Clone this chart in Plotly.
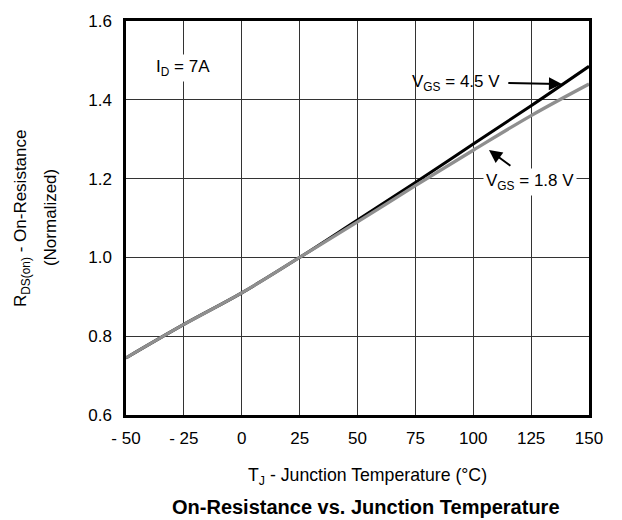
import plotly.graph_objects as go

# Junction temperature (°C) and normalized on-resistance
temp_c = [-50, -25, 0, 25, 50, 75, 100, 125, 150]
rds_vgs_4v5 = [0.745, 0.830, 0.910, 1.000, 1.095, 1.190, 1.288, 1.385, 1.485]
rds_vgs_1v8 = [0.745, 0.830, 0.910, 1.000, 1.090, 1.182, 1.272, 1.360, 1.440]

x_ticks = [-50, -25, 0, 25, 50, 75, 100, 125, 150]
x_tick_text = ["- 50", "- 25", "0", "25", "50", "75", "100", "125", "150"]
y_ticks = [0.6, 0.8, 1.0, 1.2, 1.4, 1.6]
y_tick_text = ["0.6", "0.8", "1.0", "1.2", "1.4", "1.6"]

FONT = "Liberation Sans, Arial, Helvetica, sans-serif"
FS = 17

fig = go.Figure()
fig.add_trace(go.Scatter(x=temp_c, y=rds_vgs_4v5, mode="lines",
                         line=dict(color="#000000", width=3, shape="spline"),
                         showlegend=False))
fig.add_trace(go.Scatter(x=temp_c, y=rds_vgs_1v8, mode="lines",
                         line=dict(color="#8f8f8f", width=3.3, shape="spline"),
                         showlegend=False))

annotations = [
    # condition label
    dict(x=-25.4, y=1.48, xref="x", yref="y", showarrow=False,
         text="I<sub>D</sub> = 7A", font=dict(size=FS, color="black"),
         bgcolor="white", borderpad=2),
    # VGS = 4.5 V label and pointer
    dict(x=112.6, y=1.4425, xref="x", yref="y", showarrow=False,
         xanchor="right", text="V<sub>GS</sub> = 4.5 V",
         font=dict(size=FS, color="black")),
    dict(x=138.3, y=1.44, xref="x", yref="y", axref="x", ayref="y",
         ax=114.5, ay=1.4425, showarrow=True, text="",
         arrowhead=2, arrowsize=1.3, arrowwidth=2, arrowcolor="black"),
    # VGS = 1.8 V label and pointer
    dict(x=124.5, y=1.1925, xref="x", yref="y", showarrow=False,
         text="V<sub>GS</sub> = 1.8 V", font=dict(size=FS, color="black"),
         bgcolor="white", borderpad=2),
    dict(x=106.8, y=1.2725, xref="x", yref="y", axref="x", ayref="y",
         ax=116.7, ay=1.23, showarrow=True, text="",
         arrowhead=2, arrowsize=1.3, arrowwidth=2, arrowcolor="black"),
    # axis titles
    dict(x=-0.2246, y=0.5, xref="paper", yref="paper", showarrow=False,
         textangle=-90, xanchor="center", yanchor="middle",
         text="R<sub>DS(on)</sub> - On-Resistance",
         font=dict(size=FS, color="black")),
    dict(x=-0.164, y=0.5, xref="paper", yref="paper", showarrow=False,
         textangle=-90, xanchor="center", yanchor="middle",
         text="(Normalized)", font=dict(size=FS, color="black")),
    dict(x=0.521, y=-0.155, xref="paper", yref="paper", showarrow=False,
         xanchor="center", yanchor="middle",
         text="T<sub>J</sub> - Junction Temperature (°C)",
         font=dict(size=17.7, color="black")),
    # chart caption
    dict(x=0.518, y=-0.233, xref="paper", yref="paper", showarrow=False,
         xanchor="center", yanchor="middle",
         text="<b>On-Resistance vs. Junction Temperature</b>",
         font=dict(size=20, color="black")),
]

fig.update_layout(
    width=622, height=520,
    margin=dict(l=126, r=33, t=16, b=105),
    paper_bgcolor="white", plot_bgcolor="white",
    font=dict(family=FONT, size=FS, color="black"),
    annotations=annotations,
    xaxis=dict(range=[-50, 150], tickvals=x_ticks, ticktext=x_tick_text,
               showgrid=True, gridcolor="#333333", gridwidth=1.2,
               showline=True, linecolor="black", linewidth=2.5, mirror=True,
               ticks="outside", ticklen=6, tickcolor="rgba(0,0,0,0)",
               zeroline=False, tickfont=dict(size=FS)),
    yaxis=dict(range=[0.6, 1.6], tickvals=y_ticks, ticktext=y_tick_text,
               showgrid=True, gridcolor="#333333", gridwidth=1.2,
               showline=True, linecolor="black", linewidth=2.5, mirror=True,
               ticks="outside", ticklen=8, tickcolor="rgba(0,0,0,0)",
               zeroline=False, tickfont=dict(size=FS)),
)

fig.write_html("out.html")
